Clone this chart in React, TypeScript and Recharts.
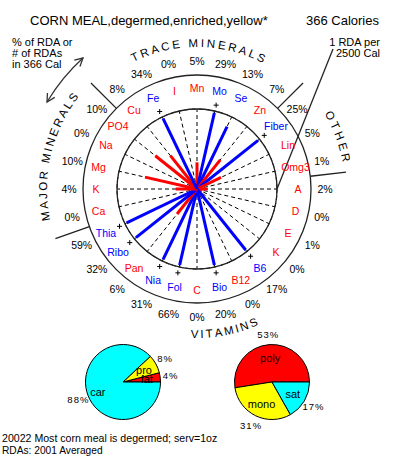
import React from 'react';
import {
  RadarChart, PolarGrid, PolarAngleAxis, PolarRadiusAxis, Radar,
  PieChart, Pie, Cell, Customized,
} from 'recharts';

// ---------- data ----------
const NUTRIENTS = ['Mn','Mo','Se','Zn','Fiber','Lin','Omg3','A','D','E','K','B6','B12','Bio','C','Fol','Nia','Pan','Ribo','Thia','Ca','K','Mg','Na','PO4','Cu','Fe','I'];
const PERCENTS = [5,29,13,7,25,5,1,2,0,1,0,17,0,20,0,66,31,6,32,59,0,4,10,0,10,8,34,0];
const HIGHLIGHT = [0,1,1,0,1,0,0,0,0,0,0,1,0,1,0,1,1,0,1,1,0,0,0,0,0,0,1,0];
const CALORIES = 366;
const RDA_CALORIES = 2500;
const RDA_LINE = (CALORIES / RDA_CALORIES) * 100;

const GROUP_LABELS = ['TRACE MINERALS', 'OTHER', 'VITAMINS', 'MAJOR MINERALS'];
const GROUP_BOUNDARIES = [3.5, 6.5, 19.5, 24.5];

const CAL_NAMES = ['fat', 'pro', 'car'];
const CAL_VALUES = [4, 8, 88];
const FAT_NAMES = ['poly', 'mono', 'sat'];
const FAT_VALUES = [53, 31, 17];

const TITLE = 'CORN MEAL,degermed,enriched,yellow*';
const CAL_TEXT = `${CALORIES} Calories`;
const LEFT_NOTE = ['% of RDA or', '# of RDAs', `in ${CALORIES} Cal`];
const RIGHT_NOTE = ['1 RDA per', `${RDA_CALORIES} Cal`];
const FOOTER = ['20022 Most corn meal is degermed; serv=1oz', 'RDAs: 2001 Averaged'];

// ---------- styles / layout ----------
const W = 393, H = 457;
const CX = 197, CY = 189;
const R_IN = 80, R_OUT = 114;
const NAME_R = 101, PCT_R = 128, PLUS_R = 86;
const DIV_R1 = 114, DIV_R2 = 150;
const FONT = '"Liberation Sans", Arial, sans-serif';
const RED = '#ff0000', BLUE = '#0000ff';
const CAL_COLORS = ['#ff0000', '#ffff00', '#00ffff'];
const FAT_COLORS = ['#ff0000', '#ffff00', '#00ffff'];
const GROUP_FONT = 11.5;
const GROUP_STYLE = [
  { r: 142, c: 0.5, cw: true, ls: 2.6 },
  { r: 148, c: 69.5, cw: true, ls: 3 },
  { r: 149, c: 169, cw: false, ls: 2.2 },
  { r: 150, c: 283, cw: true, ls: 2.2 },
];
const RAD = Math.PI / 180;
const STEP = 360 / NUTRIENTS.length;

const radarData = NUTRIENTS.map((n, i) => ({
  key: `${n}_${i}`,
  name: n,
  pct: PERCENTS[i],
  shown: Math.min(PERCENTS[i], RDA_LINE),
  color: HIGHLIGHT[i] ? BLUE : RED,
}));

const calData = CAL_NAMES.map((n, i) => ({ name: n, value: CAL_VALUES[i] }));
const fatData = FAT_NAMES.map((n, i) => ({ name: n, value: FAT_VALUES[i] }));

const bearingPt = (r: number, b: number) => [CX + r * Math.sin(b * RAD), CY - r * Math.cos(b * RAD)];

let measureCtx: any = null;
const charWidth = (ch: string, size: number) => {
  try {
    if (!measureCtx) measureCtx = document.createElement('canvas').getContext('2d');
    measureCtx.font = `${size}px "Liberation Sans", Arial, sans-serif`;
    return measureCtx.measureText(ch).width;
  } catch (e) {
    return size * 0.62;
  }
};

// ---------- radar spokes ----------
const SpokeShape = (props: any) => {
  const pts = props.points || [];
  return (
    <g>
      {pts.map((p: any, i: number) => {
        const pl = p.payload;
        const cx = p.cx ?? CX, cy = p.cy ?? CY;
        const out: any[] = [];
        if (pl.pct > 0) {
          out.push(<line key="l" x1={cx} y1={cy} x2={p.x} y2={p.y} stroke={pl.color} strokeWidth={3} />);
        }
        if (pl.pct > RDA_LINE) {
          const a = -p.angle * RAD;
          const mx = cx + PLUS_R * Math.cos(a), my = cy + PLUS_R * Math.sin(a);
          out.push(<line key="h" x1={mx - 2.5} y1={my} x2={mx + 2.5} y2={my} stroke="#000" strokeWidth={1} />);
          out.push(<line key="v" x1={mx} y1={my - 2.5} x2={mx} y2={my + 2.5} stroke="#000" strokeWidth={1} />);
        }
        return <g key={i}>{out}</g>;
      })}
    </g>
  );
};

const AxisTick = (props: any) => {
  const idx = props.index ?? props.payload?.index ?? 0;
  const ang = props.payload.coordinate;
  const a = -ang * RAD;
  const nx = CX + NAME_R * Math.cos(a), ny = CY + NAME_R * Math.sin(a);
  const px = CX + PCT_R * Math.cos(a), py = CY + PCT_R * Math.sin(a);
  return (
    <g>
      <text x={nx} y={ny} textAnchor="middle" dominantBaseline="central" fontSize={10.5} fontFamily={FONT}
        fill={HIGHLIGHT[idx] ? BLUE : RED}>{NUTRIENTS[idx]}</text>
      <text x={px} y={py} textAnchor="middle" dominantBaseline="central" fontSize={10.5} fontFamily={FONT}
        fill="#000">{PERCENTS[idx]}%</text>
    </g>
  );
};

// ---------- overlay ----------
const CurvedLabel = ({ text, r, c, cw, ls }: any) => {
  const chars = text.split('');
  const widths = chars.map((ch: string) => charWidth(ch, GROUP_FONT));
  const total = widths.reduce((s: number, w: number) => s + w, 0) + ls * (chars.length - 1);
  let s = -total / 2;
  const out: any[] = [];
  chars.forEach((ch: string, i: number) => {
    const mid = s + widths[i] / 2;
    s += widths[i] + ls;
    if (ch === ' ') return;
    const b = c + (cw ? 1 : -1) * (mid / r) / RAD;
    const [x, y] = bearingPt(r, b);
    const rot = cw ? b : b - 180;
    out.push(
      <text key={i} x={x} y={y} textAnchor="middle" fontSize={GROUP_FONT} fontFamily={FONT} fill="#000"
        transform={`rotate(${rot} ${x} ${y})`}>{ch}</text>
    );
  });
  return <g>{out}</g>;
};

const arrowHead = (tx: number, ty: number, dx: number, dy: number) => {
  const len = Math.hypot(dx, dy);
  const ux = dx / len, uy = dy / len;
  const L = 9, s = Math.sin(28 * RAD), c = Math.cos(28 * RAD);
  const ax = tx - L * (ux * c - uy * s), ay = ty - L * (uy * c + ux * s);
  const bx = tx - L * (ux * c + uy * s), by = ty - L * (uy * c - ux * s);
  return `M${ax},${ay} L${tx},${ty} L${bx},${by}`;
};

const Overlay = () => {
  const A = [47, 102], B = [83, 58], Q = [62, 77];
  return (
    <g>
      {GROUP_LABELS.map((t, i) => (
        <CurvedLabel key={i} text={t} {...GROUP_STYLE[i]} />
      ))}
      {GROUP_BOUNDARIES.map((k, i) => {
        const b = k * STEP;
        const [x1, y1] = bearingPt(DIV_R1, b);
        const [x2, y2] = bearingPt(DIV_R2, b);
        return <line key={i} x1={x1} y1={y1} x2={x2} y2={y2} stroke="#222" strokeWidth={1.3} />;
      })}
      <line x1={333} y1={49} x2={CX + R_IN} y2={CY} stroke="#222" strokeWidth={1.3} />
      <path d={`M${A[0]},${A[1]} Q${Q[0]},${Q[1]} ${B[0]},${B[1]}`} fill="none" stroke="#333" strokeWidth={1.3} />
      <path d={arrowHead(B[0], B[1], B[0] - Q[0], B[1] - Q[1])} fill="none" stroke="#333" strokeWidth={1.3} />
      <path d={arrowHead(A[0], A[1], A[0] - Q[0], A[1] - Q[1])} fill="none" stroke="#333" strokeWidth={1.3} />
      <text x={30} y={25} fontSize={13} fontFamily={FONT} fill="#000">{TITLE}</text>
      <text x={379} y={25} fontSize={13} fontFamily={FONT} fill="#000" textAnchor="end">{CAL_TEXT}</text>
      {LEFT_NOTE.map((t, i) => (
        <text key={i} x={12} y={46 + i * 11} fontSize={11} fontFamily={FONT} fill="#000">{t}</text>
      ))}
      {RIGHT_NOTE.map((t, i) => (
        <text key={i} x={380} y={46 + i * 11} fontSize={11} fontFamily={FONT} fill="#000" textAnchor="end">{t}</text>
      ))}
      <text x={2} y={442} fontSize={10.6} fontFamily={FONT} fill="#000">{FOOTER[0]}</text>
      <text x={2} y={454} fontSize={10.2} fontFamily={FONT} fill="#000">{FOOTER[1]}</text>
    </g>
  );
};

// ---------- pies ----------
const makePieLabel = (names: string[], values: number[]) => (props: any) => {
  const { cx, cy, midAngle, index } = props;
  const a = -midAngle * RAD;
  const ir = index === 2 && names === CAL_NAMES ? 27 : 24;
  const ix = cx + ir * Math.cos(a), iy = cy + ir * Math.sin(a);
  const ox = cx + 48 * Math.cos(a), oy = cy + 48 * Math.sin(a);
  return (
    <g>
      <text x={ix} y={iy} textAnchor="middle" dominantBaseline="central" fontSize={11} fontFamily={FONT} fill="#000">{names[index]}</text>
      <text x={ox} y={oy} textAnchor="middle" dominantBaseline="central" fontSize={9.5} letterSpacing={1} fontFamily={FONT} fill="#000">{values[index]}%</text>
    </g>
  );
};

export default function App() {
  return (
    <div style={{ position: 'absolute', left: 0, top: 0, width: W, height: H, background: '#fff' }}>
      <div style={{ position: 'absolute', left: 0, top: 0 }}>
        <RadarChart width={W} height={H} data={radarData} cx={CX} cy={CY} outerRadius={R_IN}
          startAngle={90} endAngle={-270} margin={{ top: 0, right: 0, bottom: 0, left: 0 }}>
          <PolarGrid gridType="circle" polarRadius={[R_IN]} stroke="#000" strokeDasharray="4 3" strokeWidth={1} />
          <PolarGrid gridType="circle" radialLines={false} polarRadius={[R_IN, R_OUT]} stroke="#222" strokeWidth={1.3} strokeDasharray="0" />
          <PolarRadiusAxis domain={[0, RDA_LINE]} tick={false} axisLine={false} tickCount={2} allowDataOverflow />
          <PolarAngleAxis dataKey="key" tick={AxisTick} tickLine={false} axisLine={false} />
          <Radar dataKey="shown" shape={SpokeShape} isAnimationActive={false} dot={false} fill="none" stroke="none" />
          <Customized component={Overlay} />
        </RadarChart>
      </div>
      <div style={{ position: 'absolute', left: 0, top: 0 }}>
        <PieChart width={W} height={H} margin={{ top: 0, right: 0, bottom: 0, left: 0 }}>
          <Pie data={calData} dataKey="value" nameKey="name" cx={123} cy={382} outerRadius={37.5}
            startAngle={0} endAngle={360} stroke="#000" strokeWidth={1} isAnimationActive={false}
            labelLine={false} label={makePieLabel(CAL_NAMES, CAL_VALUES)}>
            {calData.map((d, i) => <Cell key={i} fill={CAL_COLORS[i]} />)}
          </Pie>
          <Pie data={fatData} dataKey="value" nameKey="name" cx={272} cy={382} outerRadius={37.5}
            startAngle={0} endAngle={360} stroke="#000" strokeWidth={1} isAnimationActive={false}
            labelLine={false} label={makePieLabel(FAT_NAMES, FAT_VALUES)}>
            {fatData.map((d, i) => <Cell key={i} fill={FAT_COLORS[i]} />)}
          </Pie>
        </PieChart>
      </div>
    </div>
  );
}
